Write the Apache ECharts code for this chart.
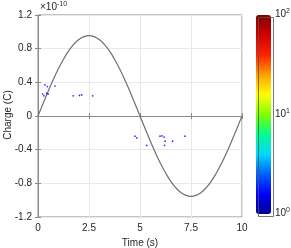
<!DOCTYPE html>
<html><head><meta charset="utf-8">
<script src="https://cdn.jsdelivr.net/npm/echarts@6/dist/echarts.min.js"></script>
<style>html,body{margin:0;padding:0;background:#fff}#c{width:291px;height:248px}</style>
</head><body><div id="c"></div>
<script>
// x tick labels and y tick labels
const xTicks = [0, 2.5, 5, 7.5, 10];
const yTicks = [-1.2, -0.8, -0.4, 0, 0.4, 0.8, 1.2];
// Curve (time in s, charge in units of 1e-10 C)
const curveT = [0,0.25,0.5,0.75,1,1.25,1.5,1.75,2,2.25,2.5,2.75,3,3.25,3.5,3.75,4,4.25,4.5,4.75,5,
  5.25,5.5,5.75,6,6.25,6.5,6.75,7,7.25,7.5,7.75,8,8.25,8.5,8.75,9,9.25,9.5,9.75,10];
const curveQ = [0,0.149,0.295,0.433,0.561,0.675,0.773,0.851,0.908,0.943,0.955,0.943,0.908,0.851,0.773,0.675,0.561,0.433,0.295,0.149,0,
  -0.149,-0.295,-0.433,-0.561,-0.675,-0.773,-0.851,-0.908,-0.943,-0.955,-0.943,-0.908,-0.851,-0.773,-0.675,-0.561,-0.433,-0.295,-0.149,0];
// scattered events: time, charge (1e-10 C), log10(count)
const evT = [0.34,0.46,0.83,0.23,0.29,0.42,0.5,1.73,2.03,2.14,2.68,4.75,4.84,5.33,5.98,6.08,6.18,6.23,6.2,6.6,7.2];
const evQ = [0.37,0.35,0.355,0.26,0.24,0.27,0.26,0.24,0.245,0.25,0.24,-0.24,-0.26,-0.35,-0.24,-0.235,-0.25,-0.3,-0.35,-0.3,-0.24];
const evC = [0.2,0.2,0.2,0.2,0.2,0.2,0.2,0.2,0.2,0.2,0.2,0.2,0.2,0.2,0.2,0.2,0.2,0.2,0.2,0.2,0.2];
// colorbar
const cbarLabels = ['0','1','2'];
const jet = ['#00008f','#0000ff','#0060ff','#00d8ff','#00ff90','#80ff00','#ffff00','#ffa000','#ff2000','#d00000','#800000'];
const xTitle = 'Time (s)';
const yTitle = 'Charge (C)';

const chart = echarts.init(document.getElementById('c'), null, {renderer:'canvas'});
const F = 'Liberation Sans, Arial, sans-serif';
const tc = '#262626';
const gl = {left:38, right:49, top:15, bottom:31};
const curve = curveT.map((t,i)=>[t,curveQ[i]]);
const ev = evT.map((t,i)=>[t,evQ[i],evC[i]]);
const cbTop = 15, cbBot = 214, cbL = 256, cbW = 15;
const lblY = v => cbBot - (cbBot-cbTop)*v/2;
chart.setOption({
  animation:false,
  textStyle:{fontFamily:F},
  grid:[{left:gl.left,right:gl.right,top:gl.top,bottom:gl.bottom,containLabel:false,outerBoundsMode:'none',show:true,borderColor:'#8a8a8a',borderWidth:1}],
  xAxis:[{type:'value',min:0,max:10,interval:2.5,
    name:xTitle,nameLocation:'middle',nameGap:20,nameTextStyle:{color:tc,fontSize:10,fontFamily:F},
    axisLine:{show:true,lineStyle:{color:'#8a8a8a'}},axisTick:{show:true,inside:true,length:3,lineStyle:{color:'#8a8a8a'}},
    axisLabel:{color:tc,fontSize:10,margin:6,formatter:v=>String(v)},
    splitLine:{show:true,lineStyle:{color:'#e8e8e8',width:1}}},
    {type:'value',min:0,max:10,interval:2.5,position:'top',axisLine:{show:false},axisTick:{show:true,inside:true,length:3,lineStyle:{color:'#8a8a8a'}},axisLabel:{show:false},splitLine:{show:false}}],
  yAxis:[{type:'value',min:-1.2,max:1.2,interval:0.4,
    axisLine:{show:true,lineStyle:{color:'#8a8a8a'}},axisTick:{show:true,inside:true,length:3,lineStyle:{color:'#8a8a8a'}},
    axisLabel:{color:tc,fontSize:10,margin:6,formatter:v=>{const r=Math.round(v*10)/10;return r===0?'0':r.toFixed(1);}},
    splitLine:{show:true,lineStyle:{color:'#e8e8e8',width:1}}},
    {type:'value',min:-1.2,max:1.2,interval:0.4,position:'right',axisLine:{show:false},axisTick:{show:true,inside:true,length:3,lineStyle:{color:'#8a8a8a'}},axisLabel:{show:false},splitLine:{show:false}}],
  visualMap:{type:'continuous',min:0,max:2,dimension:2,seriesIndex:1,calculable:false,
    left:cbL,top:cbTop,itemWidth:cbW,itemHeight:cbBot-cbTop,text:['',''],textGap:0,padding:0,
    inRange:{color:jet},showLabel:false},
  graphic:[
    {type:'rect',left:cbL,top:cbTop,shape:{width:cbW,height:cbBot-cbTop},style:{fill:'none',stroke:'#555',lineWidth:0.8},z:100},
    {type:'text',x:8,y:115,rotation:Math.PI/2,style:{text:yTitle,fontSize:10,fill:tc,fontFamily:F,align:'center',verticalAlign:'middle'}},
    {type:'text',left:40,top:1,style:{text:'{a|×10}{s|-10}',rich:{a:{fontSize:10,fill:tc,fontFamily:F},s:{fontSize:7,fill:tc,fontFamily:F,verticalAlign:'top',padding:[0,0,5,0]}}}},
    ...cbarLabels.map(p=>({type:'text',left:cbL+cbW+4,top:lblY(+p)-7,style:{text:'{a|10}{s|'+p+'}',rich:{a:{fontSize:10,fill:tc,fontFamily:F},s:{fontSize:7,fill:tc,fontFamily:F,padding:[0,0,6,0]}}}}))
  ],
  series:[
    {type:'line',data:curve,smooth:true,showSymbol:false,lineStyle:{color:'#707070',width:1.2},z:2},
    {type:'scatter',data:ev,symbolSize:1.8,z:3}
  ]
});
</script></body></html>
